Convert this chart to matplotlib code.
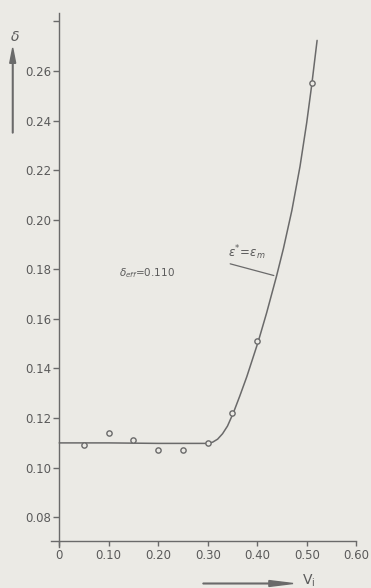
import matplotlib
matplotlib.use("Agg")
import matplotlib.pyplot as plt

# ---- data ----
vi_points = [0.05, 0.10, 0.15, 0.20, 0.25, 0.30, 0.35, 0.40, 0.51]
delta_points = [0.109, 0.114, 0.111, 0.107, 0.107, 0.110, 0.122, 0.151, 0.255]

curve_vi = [0.0, 0.10, 0.20, 0.30, 0.31, 0.32, 0.33, 0.34, 0.352, 0.365,
            0.379, 0.402, 0.419, 0.439, 0.453, 0.470, 0.4865, 0.500, 0.510, 0.521]
curve_delta = [0.1100, 0.1100, 0.1098, 0.1098, 0.1103, 0.1115, 0.1137, 0.1168,
               0.1222, 0.1290, 0.1367, 0.1508, 0.1624, 0.1772, 0.1884, 0.2037,
               0.2215, 0.2391, 0.2541, 0.2723]

xticks = [0.0, 0.10, 0.20, 0.30, 0.40, 0.50, 0.60]
xticklabels = ["0", "0.10", "0.20", "0.30", "0.40", "0.50", "0.60"]
yticks = [0.08, 0.10, 0.12, 0.14, 0.16, 0.18, 0.20, 0.22, 0.24, 0.26, 0.28]
yticklabels = ["0.08", "0.10", "0.12", "0.14", "0.16", "0.18", "0.20",
               "0.22", "0.24", "0.26", ""]

BG = "#ebeae5"
INK = "#6a6a6a"
TXT = "#5a5a5a"

W, H = 371, 588
fig = plt.figure(figsize=(W / 100, H / 100), dpi=100, facecolor=BG)
ax = fig.add_axes([49.3 / W, (H - 554.5) / H, (366.1 - 49.3) / W, (554.5 - 8.9) / H])
ax.set_facecolor(BG)
ax.set_xlim(-0.02, 0.62)
ax.set_ylim(0.065, 0.285)

for s in ("top", "right"):
    ax.spines[s].set_visible(False)
ax.spines["left"].set_position(("data", 0.0))
ax.spines["left"].set_bounds(0.068, 0.2835)
ax.spines["bottom"].set_position(("data", 0.0706))
ax.spines["bottom"].set_bounds(-0.016, 0.60)
for s in ("left", "bottom"):
    ax.spines[s].set_color(INK)
    ax.spines[s].set_linewidth(1.0)

ax.set_xticks(xticks)
ax.set_xticklabels(xticklabels)
ax.set_yticks(yticks)
ax.set_yticklabels(yticklabels)
ax.tick_params(axis="both", direction="out", color=INK, width=1.0,
               labelcolor=TXT, labelsize=8.5)
ax.tick_params(axis="y", length=4.5, pad=1.2)
ax.tick_params(axis="x", length=3.8, pad=2.3)

ax.plot(curve_vi, curve_delta, color=INK, lw=1.1, solid_capstyle="round",
        solid_joinstyle="round", zorder=2)
ax.plot(vi_points, delta_points, linestyle="none", marker="o", ms=3.8,
        mfc=BG, mec=INK, mew=1.0, zorder=3)

# annotations
ax.text(0.178, 0.1785, r"$\delta_{eff}$=0.110", color=TXT, fontsize=7.5,
        ha="center", va="center")
ax.annotate("", xy=(0.439, 0.1772), xytext=(0.340, 0.1825),
            arrowprops=dict(arrowstyle="-", color=INK, lw=0.9))
ax.text(0.341, 0.1830, r"$\varepsilon^{*}\!=\!\varepsilon_m$", color=TXT,
        fontsize=8.5, ha="left", va="bottom")

# axis labels with arrows (figure pixel coordinates)
def fx(px):
    return px / W

def fy(py):
    return 1 - py / H

fig.text(fx(15), fy(37), r"$\delta$", color=TXT, fontsize=10, ha="center", va="center")
fig.patches.append(matplotlib.patches.FancyArrow(
    fx(12.7), fy(133), 0, fy(48) - fy(133), width=0.0015, head_width=0.016,
    head_length=0.026, length_includes_head=True, color=INK,
    transform=fig.transFigure, figure=fig))
fig.patches.append(matplotlib.patches.FancyArrow(
    fx(203), fy(583.5), fx(293) - fx(203), 0, width=0.0012, head_width=0.010,
    head_length=0.065, length_includes_head=True, color=INK,
    transform=fig.transFigure, figure=fig))
fig.text(fx(309), fy(581), r"V$_\mathrm{i}$", color=TXT, fontsize=10,
         ha="center", va="center")

fig.savefig("out.png", dpi=100, facecolor=BG)
